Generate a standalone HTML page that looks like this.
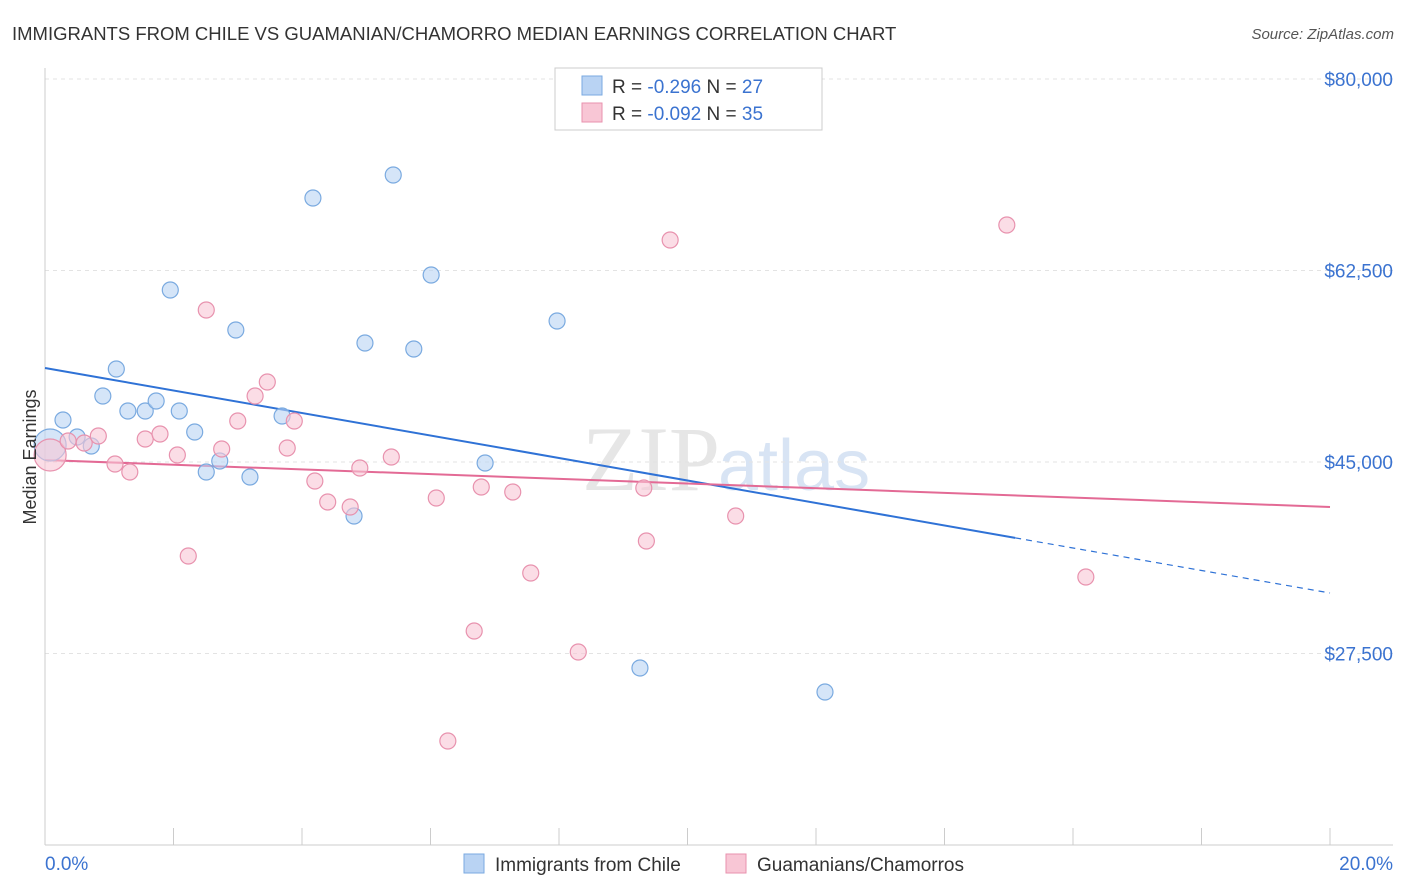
<!DOCTYPE html>
<html><head><meta charset="utf-8"><style>
body{margin:0;background:#fff;font-family:"Liberation Sans",sans-serif;}
svg{display:block}
</style></head><body>
<svg id="chart" width="1406" height="892" viewBox="0 0 1406 892">
<text x="12" y="40" font-size="18.5" fill="#333">IMMIGRANTS FROM CHILE VS GUAMANIAN/CHAMORRO MEDIAN EARNINGS CORRELATION CHART</text>
<text x="1394" y="39" font-size="15" fill="#555" font-style="italic" text-anchor="end">Source: ZipAtlas.com</text>
<text x="720" y="490" font-size="92" fill="#e6e6e6" text-anchor="end" font-family="Liberation Serif,serif">ZIP</text>
<text x="718" y="490" font-size="72" fill="#d8e4f4">atlas</text>
<g id="grid"></g>
<g id="axes"></g>
<g id="lines"></g>
<g id="points"></g>
<text x="36" y="457" font-size="18" fill="#333" text-anchor="middle" transform="rotate(-90 36 457)">Median Earnings</text>
<g>
<rect x="555" y="68" width="267" height="62" fill="#fff" stroke="#ccc"/>
<rect x="582" y="76" width="20" height="19" fill="#b9d3f3" stroke="#7aaae0"/>
<text x="612" y="93" font-size="19" fill="#333">R = <tspan fill="#3b73d0">-0.296</tspan>   N = <tspan fill="#3b73d0">27</tspan></text>
<rect x="582" y="103" width="20" height="19" fill="#f8c6d5" stroke="#e892ae"/>
<text x="612" y="120" font-size="19" fill="#333">R = <tspan fill="#3b73d0">-0.092</tspan>   N = <tspan fill="#3b73d0">35</tspan></text>
</g>
<g>
<rect x="464" y="854" width="20" height="19" fill="#b9d3f3" stroke="#7aaae0"/>
<text x="495" y="871" font-size="19" fill="#333">Immigrants from Chile</text>
<rect x="726" y="854" width="20" height="19" fill="#f8c6d5" stroke="#e892ae"/>
<text x="757" y="871" font-size="19" fill="#333">Guamanians/Chamorros</text>
</g>
</svg>
<script>
const yTicks=[80000,62500,45000,27500];
const yTickLabels=["$80,000","$62,500","$45,000","$27,500"];
const xTickCount=10;
const xLabels=["0.0%","20.0%"];
const chileX=[0.28,0.50,0.72,0.90,1.11,1.29,1.56,1.73,1.95,2.09,2.33,2.51,2.72,2.97,3.19,3.69,4.17,4.81,4.98,5.42,5.74,6.01,6.85,7.97,9.26,12.14,0.08];
const chileY=[48838,47285,46462,51031,53498,49660,49660,50574,60717,49660,47741,44086,45091,57062,43629,49203,69124,40066,55874,71226,55326,62088,44909,57885,26176,23983,46553];
const guamX=[0.08,0.36,0.61,0.83,1.09,1.32,1.56,1.79,2.06,2.23,2.51,2.75,3.00,3.27,3.46,3.77,3.88,4.20,4.40,4.75,4.90,5.39,6.09,6.27,6.68,6.79,7.28,7.56,8.30,9.32,9.36,9.73,10.75,14.97,16.20];
const guamY=[45640,46919,46736,47376,44817,44086,47102,47559,45640,36410,58890,46188,48747,51031,52310,46279,48747,43264,41345,40888,44452,45457,41710,19505,29557,42716,42259,34857,27638,42624,37781,65286,40066,66657,34491];
const chileTrend=[53590,33030];
const guamTrend=[45180,40890];
const chileSolidEnd=15.1;
const NS="http://www.w3.org/2000/svg";
const X=v=>45+v/20*1285;
const Y=v=>462-(v-45000)*0.010943;
function mk(tag,attrs,parent){const e=document.createElementNS(NS,tag);for(const k in attrs)e.setAttribute(k,attrs[k]);parent.appendChild(e);return e;}
const grid=document.getElementById('grid'),axes=document.getElementById('axes'),lines=document.getElementById('lines'),pts=document.getElementById('points');
yTicks.forEach((t,i)=>{
 const l=mk('line',{x1:45,x2:1393,y1:Y(t),y2:Y(t),stroke:'#e3e3e3','stroke-dasharray':'4,4'},grid);
 
 
 const tx=mk('text',{x:1393,y:Y(t)+7,'font-size':19,fill:'#3b73d0','text-anchor':'end'},axes);
 tx.textContent=yTickLabels[i];
 
 
});
const ax=mk('line',{x1:45,x2:1393,y1:845,y2:845,stroke:'#ccc'},axes);


const ay=mk('line',{x1:45,x2:45,y1:68,y2:845,stroke:'#ccc'},axes);


for(let i=0;i<=xTickCount;i++){
 const tk=mk('line',{x1:X(i*2),x2:X(i*2),y1:828,y2:845,stroke:'#ccc'},axes);
 
 
}
const xl0=mk('text',{x:45,y:870,'font-size':19,fill:'#3b73d0'},axes);xl0.textContent=xLabels[0];


const xl1=mk('text',{x:1393,y:870,'font-size':19,fill:'#3b73d0','text-anchor':'end'},axes);xl1.textContent=xLabels[1];


function pt(x,y,r,fill,stroke,name){const c=mk('circle',{cx:X(x),cy:Y(y),r:r,fill:fill,'fill-opacity':0.6,stroke:stroke,'stroke-width':1.2},pts);
 
 }
chileX.forEach((x,i)=>pt(x,chileY[i],i===26?16:8,'#b9d3f3','#7aaae0','chile-point'));
guamX.forEach((x,i)=>pt(x,guamY[i],i===0?16:8,'#f8c6d5','#e892ae','guamanian-point'));
const cAt=x=>chileTrend[0]+(chileTrend[1]-chileTrend[0])*x/20;
const l1=mk('line',{x1:X(0),y1:Y(chileTrend[0]),x2:X(chileSolidEnd),y2:Y(cAt(chileSolidEnd)),stroke:'#2f72d6','stroke-width':2},lines);


const l2=mk('line',{x1:X(chileSolidEnd),y1:Y(cAt(chileSolidEnd)),x2:X(20),y2:Y(chileTrend[1]),stroke:'#2f72d6','stroke-width':1.2,'stroke-dasharray':'6,5'},lines);


const l3=mk('line',{x1:X(0),y1:Y(guamTrend[0]),x2:X(20),y2:Y(guamTrend[1]),stroke:'#e36a95','stroke-width':2},lines);


</script>
</body></html>
